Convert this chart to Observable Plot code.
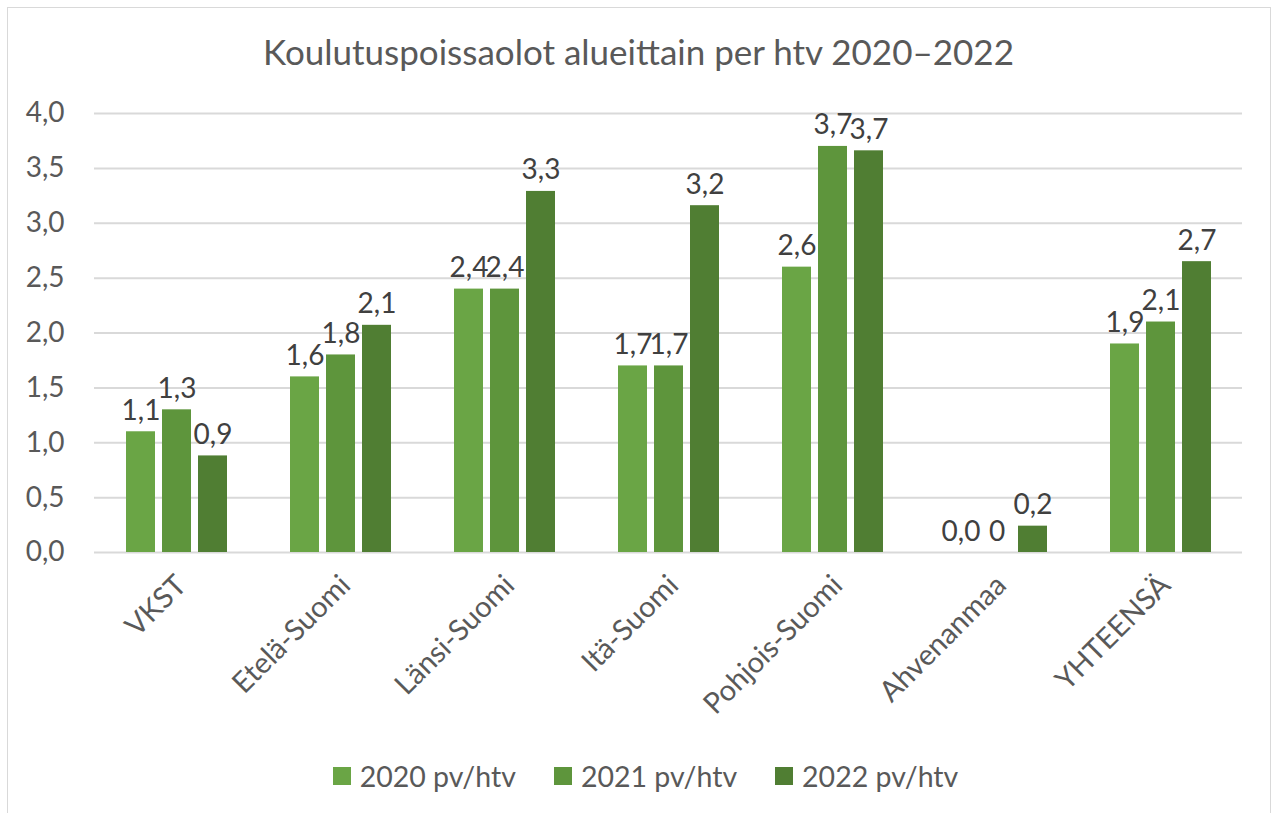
<!DOCTYPE html>
<html><head><meta charset="utf-8">
<script src="https://cdn.jsdelivr.net/npm/d3@7"></script>
<script src="https://cdn.jsdelivr.net/npm/@observablehq/plot@0.6"></script>
<style>
body{margin:0;background:#fff;font-family:Lato,sans-serif;overflow:hidden;}
#frame{position:absolute;left:7px;top:7px;width:1264px;height:840px;border:1.5px solid #d9d9d9;box-sizing:border-box;}
#title{position:absolute;left:0;top:30px;width:1277px;text-align:center;font-size:35px;color:#595959;white-space:nowrap;}
#chart{position:absolute;left:0;top:0;}
#legend{position:absolute;top:759px;left:7px;width:1277px;display:flex;justify-content:center;font-size:28.5px;color:#595959;}
.item{display:flex;align-items:center;margin:0 19px;}
.sw{width:18px;height:18px;margin-right:9px;}
</style></head>
<body>
<div id="frame"></div>
<div id="chart"></div>
<div id="title">Koulutuspoissaolot alueittain per htv 2020–2022</div>
<div id="legend"></div>
<script>
const categories = ["VKST","Etelä-Suomi","Länsi-Suomi","Itä-Suomi","Pohjois-Suomi","Ahvenanmaa","YHTEENSÄ"];
const series = ["2020 pv/htv","2021 pv/htv","2022 pv/htv"];
const values2020 = [1.1,1.6,2.4,1.7,2.6,0.0,1.9];
const values2021 = [1.3,1.8,2.4,1.7,3.7,0,2.1];
const values2022 = [0.88,2.07,3.29,3.16,3.66,0.24,2.65];
const labels2020 = ["1,1","1,6","2,4","1,7","2,6","0,0","1,9"];
const labels2021 = ["1,3","1,8","2,4","1,7","3,7","0","2,1"];
const labels2022 = ["0,9","2,1","3,3","3,2","3,7","0,2","2,7"];
const yTicks = [0,0.5,1,1.5,2,2.5,3,3.5,4];
const yTickLabels = ["0,0","0,5","1,0","1,5","2,0","2,5","3,0","3,5","4,0"];
const colors = ["#6aa545","#5e953c","#507e33"];

const allValues = [values2020, values2021, values2022];
const allLabels = [labels2020, labels2021, labels2022];
const data = [];
categories.forEach((c, i) => {
  series.forEach((s, j) => {
    data.push({category: c, series: s, value: allValues[j][i], label: allLabels[j][i]});
  });
});

const chart = Plot.plot({
  width: 1277,
  height: 720,
  marginLeft: 93,
  marginRight: 34,
  marginTop: 113,
  marginBottom: 168,
  style: {fontFamily: "Lato, sans-serif", color: "#595959", background: "transparent"},
  fx: {domain: categories, padding: 0},
  x: {domain: series, paddingInner: 0.2, paddingOuter: 0.85, axis: null},
  y: {domain: [0, 4]},
  color: {domain: series, range: colors},
  marks: [
    Plot.gridY(yTicks, {stroke: "#d9d9d9", strokeOpacity: 1, strokeWidth: 2}),
    Plot.barY(data, {fx: "category", x: "series", y: "value", fill: "series"}),
    Plot.text(data, {fx: "category", x: "series", y: "value", text: "label", lineAnchor: "bottom", dy: -12, fontSize: 28, fill: "#404040"}),
    Plot.axisY(yTicks, {tickSize: 0, tickPadding: 30, tickFormat: (d) => yTickLabels[yTicks.indexOf(d)], fontSize: 28, fill: "#595959", label: null}),
    Plot.axisFx({anchor: "bottom", tickRotate: -45, tickSize: 0, tickPadding: 28, dx: 5, fontSize: 29, fill: "#595959", label: null})
  ]
});
document.getElementById("chart").appendChild(chart);

const legend = document.getElementById("legend");
series.forEach((s, j) => {
  const it = document.createElement("div");
  it.className = "item";
  const sw = document.createElement("div");
  sw.className = "sw";
  sw.style.background = colors[j];
  const t = document.createElement("span");
  t.textContent = s;
  it.appendChild(sw); it.appendChild(t);
  legend.appendChild(it);
});
</script>
</body></html>
